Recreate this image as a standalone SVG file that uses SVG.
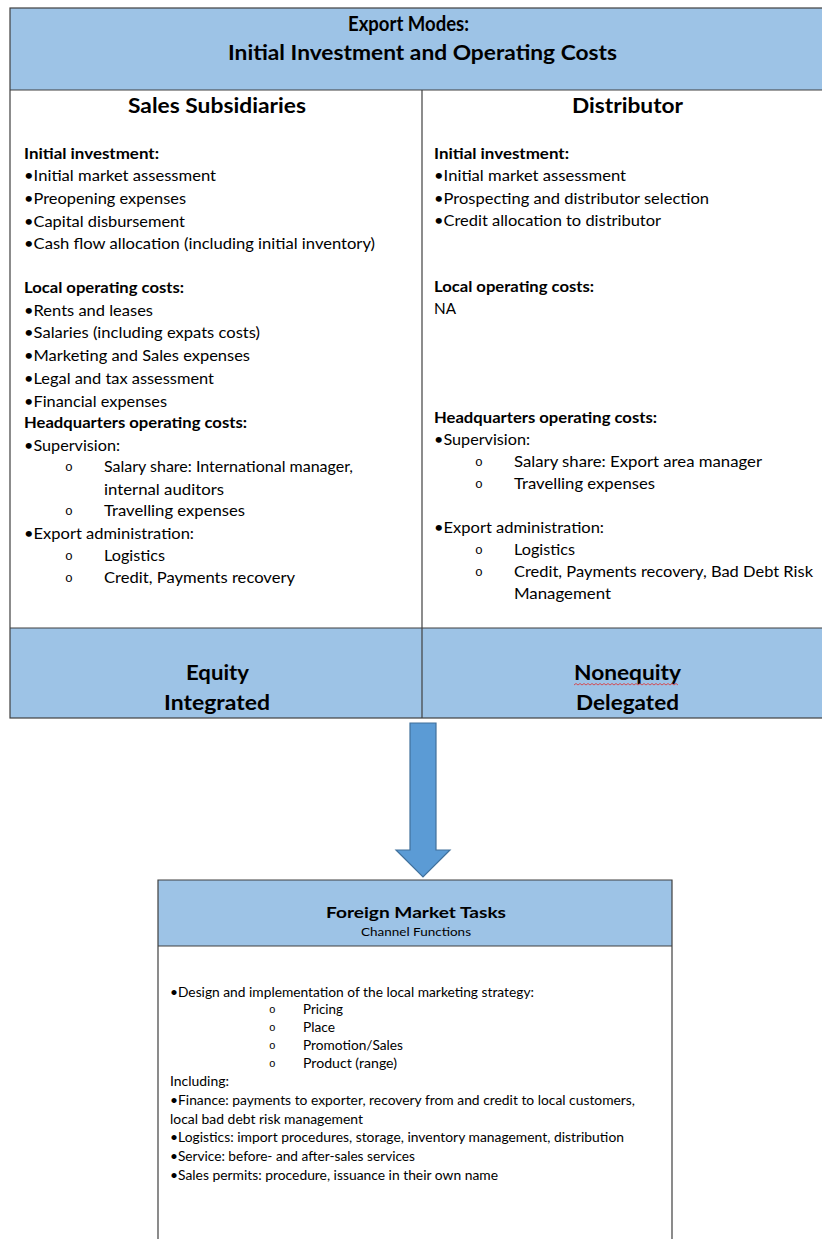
<svg xmlns="http://www.w3.org/2000/svg" width="822" height="1239" viewBox="0 0 822 1239">
<style>
.t{font-family:Lato,"Liberation Sans",sans-serif;fill:#000}
.h{font-size:20px;font-weight:bold}
.b{font-size:15px}
.bb{font-size:15px;font-weight:bold}
.s{font-size:12.5px}
.o{font-family:"Liberation Mono",monospace;font-size:13px;fill:#000}
.os{font-family:"Liberation Mono",monospace;font-size:11px;fill:#000}
.ln{stroke:#404040;stroke-width:1.2;fill:none}
.fill{fill:#9dc3e6}
</style>
<rect x="0" y="0" width="822" height="1239" fill="#fff"/>
<g id="table">
<rect class="fill" x="10" y="8" width="814" height="82"/>
<rect class="fill" x="10" y="628" width="814" height="90"/>
<rect class="ln" x="10" y="8" width="814" height="710"/>
<line class="ln" x1="10" y1="90" x2="824" y2="90"/>
<line class="ln" x1="10" y1="628" x2="824" y2="628"/>
<line class="ln" x1="422" y1="90" x2="422" y2="718"/>
</g>
<g id="title">
<text class="t h" x="408.5" y="31" text-anchor="middle" textLength="121" lengthAdjust="spacingAndGlyphs">Export Modes:</text>
<text class="t h" x="422.5" y="60" text-anchor="middle" textLength="389" lengthAdjust="spacingAndGlyphs">Initial Investment and Operating Costs</text>
</g>
<g id="sales-subsidiaries">
<text class="t h" x="217" y="113" text-anchor="middle" textLength="178" lengthAdjust="spacingAndGlyphs">Sales Subsidiaries</text>
<text class="t bb" x="24" y="159" textLength="135" lengthAdjust="spacingAndGlyphs">Initial investment:</text>
<text class="t b" x="24" y="181" textLength="192" lengthAdjust="spacingAndGlyphs">•Initial market assessment</text>
<text class="t b" x="24" y="204" textLength="162" lengthAdjust="spacingAndGlyphs">•Preopening expenses</text>
<text class="t b" x="24" y="227" textLength="161" lengthAdjust="spacingAndGlyphs">•Capital disbursement</text>
<text class="t b" x="24" y="249" textLength="351" lengthAdjust="spacingAndGlyphs">•Cash flow allocation (including initial inventory)</text>
<text class="t bb" x="24" y="293" textLength="160" lengthAdjust="spacingAndGlyphs">Local operating costs:</text>
<text class="t b" x="24" y="316" textLength="129" lengthAdjust="spacingAndGlyphs">•Rents and leases</text>
<text class="t b" x="24" y="338" textLength="236" lengthAdjust="spacingAndGlyphs">•Salaries (including expats costs)</text>
<text class="t b" x="24" y="361" textLength="226" lengthAdjust="spacingAndGlyphs">•Marketing and Sales expenses</text>
<text class="t b" x="24" y="384" textLength="190" lengthAdjust="spacingAndGlyphs">•Legal and tax assessment</text>
<text class="t b" x="24" y="407" textLength="143" lengthAdjust="spacingAndGlyphs">•Financial expenses</text>
<text class="t bb" x="24" y="428" textLength="223" lengthAdjust="spacingAndGlyphs">Headquarters operating costs:</text>
<text class="t b" x="24" y="451" textLength="96" lengthAdjust="spacingAndGlyphs">•Supervision:</text>
<text class="o" x="65" y="471">o</text>
<text class="t b" x="104" y="472" textLength="249" lengthAdjust="spacingAndGlyphs">Salary share: International manager,</text>
<text class="t b" x="104" y="495" textLength="120" lengthAdjust="spacingAndGlyphs">internal auditors</text>
<text class="o" x="65" y="515">o</text>
<text class="t b" x="104" y="516" textLength="141" lengthAdjust="spacingAndGlyphs">Travelling expenses</text>
<text class="t b" x="24" y="539" textLength="170" lengthAdjust="spacingAndGlyphs">•Export administration:</text>
<text class="o" x="65" y="560">o</text>
<text class="t b" x="104" y="561" textLength="61" lengthAdjust="spacingAndGlyphs">Logistics</text>
<text class="o" x="65" y="582">o</text>
<text class="t b" x="104" y="583" textLength="191" lengthAdjust="spacingAndGlyphs">Credit, Payments recovery</text>
</g>
<g id="distributor">
<text class="t h" x="627.5" y="113" text-anchor="middle" textLength="111" lengthAdjust="spacingAndGlyphs">Distributor</text>
<text class="t bb" x="434" y="159" textLength="135" lengthAdjust="spacingAndGlyphs">Initial investment:</text>
<text class="t b" x="434" y="181" textLength="192" lengthAdjust="spacingAndGlyphs">•Initial market assessment</text>
<text class="t b" x="434" y="204" textLength="275" lengthAdjust="spacingAndGlyphs">•Prospecting and distributor selection</text>
<text class="t b" x="434" y="226" textLength="227" lengthAdjust="spacingAndGlyphs">•Credit allocation to distributor</text>
<text class="t bb" x="434" y="292" textLength="160" lengthAdjust="spacingAndGlyphs">Local operating costs:</text>
<text class="t b" x="434" y="314" textLength="22" lengthAdjust="spacingAndGlyphs">NA</text>
<text class="t bb" x="434" y="423" textLength="223" lengthAdjust="spacingAndGlyphs">Headquarters operating costs:</text>
<text class="t b" x="434" y="445" textLength="96" lengthAdjust="spacingAndGlyphs">•Supervision:</text>
<text class="o" x="475" y="466">o</text>
<text class="t b" x="514" y="467" textLength="248" lengthAdjust="spacingAndGlyphs">Salary share: Export area manager</text>
<text class="o" x="475" y="488">o</text>
<text class="t b" x="514" y="489" textLength="141" lengthAdjust="spacingAndGlyphs">Travelling expenses</text>
<text class="t b" x="434" y="533" textLength="170" lengthAdjust="spacingAndGlyphs">•Export administration:</text>
<text class="o" x="475" y="554">o</text>
<text class="t b" x="514" y="555" textLength="61" lengthAdjust="spacingAndGlyphs">Logistics</text>
<text class="o" x="475" y="576">o</text>
<text class="t b" x="514" y="577" textLength="299" lengthAdjust="spacingAndGlyphs">Credit, Payments recovery, Bad Debt Risk</text>
<text class="t b" x="514" y="599" textLength="97" lengthAdjust="spacingAndGlyphs">Management</text>
</g>
<g id="equity">
<text class="t h" x="217.5" y="680" text-anchor="middle" textLength="63" lengthAdjust="spacingAndGlyphs">Equity</text>
<text class="t h" x="217" y="710" text-anchor="middle" textLength="106" lengthAdjust="spacingAndGlyphs">Integrated</text>
</g>
<g id="nonequity">
<text class="t h" x="627.5" y="680" text-anchor="middle" textLength="107" lengthAdjust="spacingAndGlyphs">Nonequity</text>
<path d="M574,685 l2,-1.5 l2,1.5 l2,-1.5 l2,1.5 l2,-1.5 l2,1.5 l2,-1.5 l2,1.5 l2,-1.5 l2,1.5 l2,-1.5 l2,1.5 l2,-1.5 l2,1.5 l2,-1.5 l2,1.5 l2,-1.5 l2,1.5 l2,-1.5 l2,1.5 l2,-1.5 l2,1.5 l2,-1.5 l2,1.5 l2,-1.5 l2,1.5 l2,-1.5 l2,1.5 l2,-1.5 l2,1.5 l2,-1.5 l2,1.5 l2,-1.5 l2,1.5 l2,-1.5 l2,1.5 l2,-1.5 l2,1.5 l2,-1.5 l2,1.5 l2,-1.5 l2,1.5 l2,-1.5 l2,1.5 l2,-1.5 l2,1.5 l2,-1.5 l2,1.5 l2,-1.5 l2,1.5 l2,-1.5 l2,1.5" fill="none" stroke="#e03030" stroke-width="0.8"/>
<text class="t h" x="627.5" y="710" text-anchor="middle" textLength="103" lengthAdjust="spacingAndGlyphs">Delegated</text>
</g>
<g id="connectors">
<path d="M410,723 H436 V850 H450 L423,877 L396,850 H410 Z" fill="#5b9bd5" stroke="#41719c" stroke-width="1.2"/>
</g>
<g id="foreign-market-tasks">
<rect class="fill" x="158" y="880" width="514" height="66"/>
<path class="ln" d="M158,1240 V880 H672 V1240"/>
<line class="ln" x1="158" y1="946" x2="672" y2="946"/>
<text class="t" x="416" y="918" text-anchor="middle" font-size="16" font-weight="bold" textLength="180" lengthAdjust="spacingAndGlyphs">Foreign Market Tasks</text>
<text class="t" x="416" y="936" text-anchor="middle" font-size="12" textLength="110" lengthAdjust="spacingAndGlyphs">Channel Functions</text>
<text class="t s" x="170" y="997" textLength="364" lengthAdjust="spacingAndGlyphs">•Design and implementation of the local marketing strategy:</text>
<text class="os" x="269" y="1013">o</text>
<text class="t s" x="303" y="1014" textLength="40" lengthAdjust="spacingAndGlyphs">Pricing</text>
<text class="os" x="269" y="1031">o</text>
<text class="t s" x="303" y="1032" textLength="32" lengthAdjust="spacingAndGlyphs">Place</text>
<text class="os" x="269" y="1049">o</text>
<text class="t s" x="303" y="1050" textLength="100" lengthAdjust="spacingAndGlyphs">Promotion/Sales</text>
<text class="os" x="269" y="1067">o</text>
<text class="t s" x="303" y="1068" textLength="94" lengthAdjust="spacingAndGlyphs">Product (range)</text>
<text class="t s" x="170" y="1086" textLength="59" lengthAdjust="spacingAndGlyphs">Including:</text>
<text class="t s" x="170" y="1105" textLength="465" lengthAdjust="spacingAndGlyphs">•Finance: payments to exporter, recovery from and credit to local customers,</text>
<text class="t s" x="170" y="1124" textLength="193" lengthAdjust="spacingAndGlyphs">local bad debt risk management</text>
<text class="t s" x="170" y="1142" textLength="454" lengthAdjust="spacingAndGlyphs">•Logistics: import procedures, storage, inventory management, distribution</text>
<text class="t s" x="170" y="1161" textLength="245" lengthAdjust="spacingAndGlyphs">•Service: before- and after-sales services</text>
<text class="t s" x="170" y="1180" textLength="328" lengthAdjust="spacingAndGlyphs">•Sales permits: procedure, issuance in their own name</text>
</g>
</svg>
